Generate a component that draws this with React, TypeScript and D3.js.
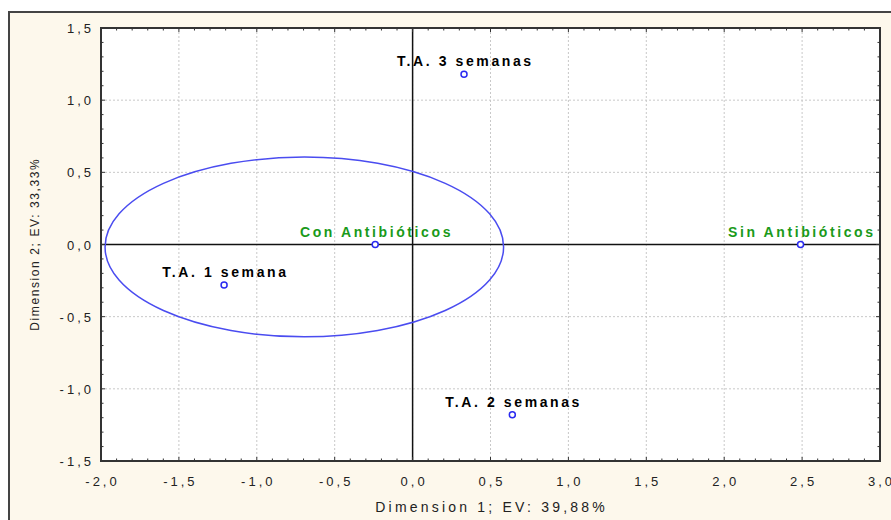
import React from "react";
import * as d3 from "d3";

const labels = ["T.A. 3 semanas", "T.A. 1 semana", "Con Antibióticos", "Sin Antibióticos", "T.A. 2 semanas"];
const dim1 = [0.33, -1.21, -0.24, 2.49, 0.64];
const dim2 = [1.18, -0.28, 0.0, 0.0, -1.18];
const labelColors = ["#000000", "#000000", "#1a9a1a", "#1a9a1a", "#000000"];
const xTicks = [-2.0, -1.5, -1.0, -0.5, 0.0, 0.5, 1.0, 1.5, 2.0, 2.5, 3.0];
const yTicks = [-1.5, -1.0, -0.5, 0.0, 0.5, 1.0, 1.5];
const ellipseCenter = [-0.695, -0.017];
const ellipseRadii = [1.279, 0.623];

const fmt = (v: number) => v.toFixed(1).replace(".", ",");

export default function App() {
  const W = 891, H = 520;
  const left = 101, right = 880, top = 28, bottom = 461;
  const x = d3.scaleLinear().domain([-2, 3]).range([left, right]);
  const y = d3.scaleLinear().domain([-1.5, 1.5]).range([bottom, top]);
  const minorX = d3.range(-20, 31).map((i) => i / 10);
  const minorY = d3.range(-15, 16).map((i) => i / 10);
  const font = "'Liberation Sans', Arial, sans-serif";
  const tickLs = 3;
  const labLs = 2.6;
  return (
    <svg width={W} height={H} style={{ position: "absolute", left: 0, top: 0 }}>
      <rect x={0} y={0} width={W} height={H} fill="#ffffff" />
      <rect x={9} y={12} width={W} height={H} fill="#fdf8ec" stroke="#444" strokeWidth={2} />
      <rect x={left} y={top} width={right - left} height={bottom - top} fill="#ffffff" />
      {xTicks.slice(1, -1).map((t) => (
        <line key={"gx" + t} x1={x(t)} x2={x(t)} y1={top} y2={bottom} stroke="#c8c8c8" strokeDasharray="2,2" />
      ))}
      {yTicks.slice(1, -1).map((t) => (
        <line key={"gy" + t} x1={left} x2={right} y1={y(t)} y2={y(t)} stroke="#c8c8c8" strokeDasharray="2,2" />
      ))}
      <line x1={x(0)} x2={x(0)} y1={top} y2={bottom} stroke="#111" strokeWidth={1.5} />
      <line x1={left} x2={right} y1={y(0)} y2={y(0)} stroke="#111" strokeWidth={1.5} />
      <ellipse
        cx={x(ellipseCenter[0])}
        cy={y(ellipseCenter[1])}
        rx={x(ellipseRadii[0]) - x(0)}
        ry={y(0) - y(ellipseRadii[1])}
        fill="none"
        stroke="#4a4cf0"
        strokeWidth={1.5}
      />
      {minorX.map((t) => {
        const major = Math.abs(t * 2 - Math.round(t * 2)) < 1e-6;
        const len = major ? 4 : 2.5;
        return (
          <g key={"mx" + t}>
            <line x1={x(t)} x2={x(t)} y1={bottom} y2={bottom - len} stroke="#333" />
            <line x1={x(t)} x2={x(t)} y1={top} y2={top + len} stroke="#333" />
          </g>
        );
      })}
      {minorY.map((t) => {
        const major = Math.abs(t * 2 - Math.round(t * 2)) < 1e-6;
        const len = major ? 4 : 2.5;
        return (
          <g key={"my" + t}>
            <line x1={left} x2={left + len} y1={y(t)} y2={y(t)} stroke="#333" />
            <line x1={right} x2={right - len} y1={y(t)} y2={y(t)} stroke="#333" />
          </g>
        );
      })}
      <rect x={left} y={top} width={right - left} height={bottom - top} fill="none" stroke="#333" strokeWidth={2} />
      {yTicks.map((t) => (
        <text key={"ty" + t} x={91 + tickLs} y={y(t) + 5} textAnchor="end" fontFamily={font} fontSize={13} letterSpacing={tickLs} fill="#222">
          {fmt(t)}
        </text>
      ))}
      {xTicks.map((t) => (
        <text key={"tx" + t} x={x(t) + tickLs / 2} y={486} textAnchor="middle" fontFamily={font} fontSize={13} letterSpacing={tickLs} fill="#222">
          {fmt(t)}
        </text>
      ))}
      <text x={490 + 1.6} y={512} textAnchor="middle" fontFamily={font} fontSize={14} letterSpacing={3.2} fill="#222">
        Dimension 1; EV: 39,88%
      </text>
      <text
        transform={`translate(39, 245) rotate(-90)`}
        textAnchor="middle"
        fontFamily={font}
        fontSize={12}
        letterSpacing={1.6}
        dx={0.8}
        fill="#222"
      >
        Dimension 2; EV: 33,33%
      </text>
      {labels.map((l, i) => (
        <g key={l}>
          <circle cx={x(dim1[i])} cy={y(dim2[i])} r={3} fill="#fff" stroke="#2a2af0" strokeWidth={1.5} />
          <text
            x={x(dim1[i]) + labLs / 2}
            y={y(dim2[i]) - 8}
            textAnchor="middle"
            fontFamily={font}
            fontWeight="bold"
            fontSize={14}
            letterSpacing={labLs}
            fill={labelColors[i]}
          >
            {l}
          </text>
        </g>
      ))}
    </svg>
  );
}
